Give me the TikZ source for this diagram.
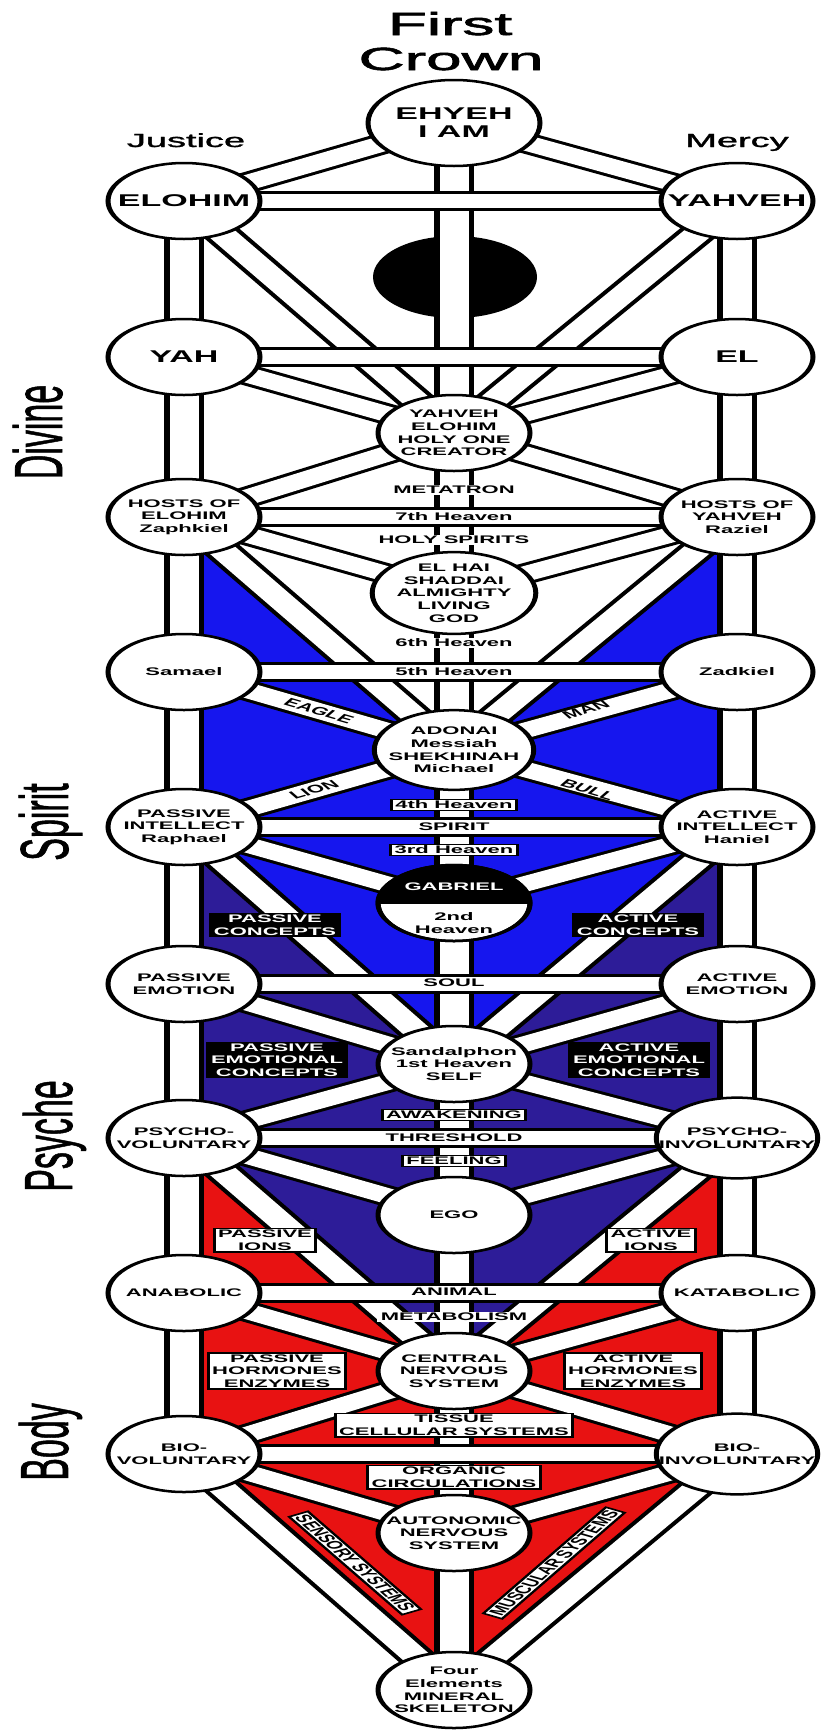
\documentclass[tikz,border=0pt]{standalone}
\usepackage{fontspec}
\setmainfont{Liberation Sans}
\newfontfamily\titlefont{Liberation Sans}[FakeBold=1.6]
\newfontfamily\labfont{Liberation Sans}[FakeBold=1.2]
\definecolor{spblue}{RGB}{22,22,238}
\definecolor{psindigo}{RGB}{45,28,152}
\definecolor{bdred}{RGB}{232,18,18}
\begin{document}
\begin{tikzpicture}[x=1pt,y=-1pt,
  sef/.style={circle,draw,line width=2.5pt,fill=white,minimum size=76pt,inner sep=0pt,align=center,font=\fontsize{11}{12.7}\selectfont\bfseries},
  bigsef/.style={sef,font=\fontsize{17}{18}\selectfont\bfseries},
  barout/.style={line width=20pt,black},
  barin/.style={line width=14.5pt,white},
  tlab/.style={inner sep=0pt,align=center,font=\fontsize{11}{12.7}\selectfont\bfseries},
  wlab/.style={tlab,fill=white,inner xsep=2pt,inner ysep=1pt},
  blab/.style={wlab,draw,line width=1.5pt,inner xsep=2pt,inner ysep=1.5pt},
  klab/.style={tlab,fill=black,text=white,inner xsep=2.5pt,inner ysep=1.5pt},
  world/.style={rotate=90,inner sep=0pt,anchor=base,font=\fontsize{34}{36}\labfont},
  side/.style={inner sep=0pt,anchor=base,font=\fontsize{19}{20}\labfont}
]
\useasboundingbox (0,0) rectangle (820,1730);
\begin{scope}[transform canvas={xscale=2}]
% ---------- positions ----------
\coordinate (p-ehyeh) at (227,123);
\coordinate (p-daat) at (227.5,277);
\coordinate (p-creator) at (227,433);
\coordinate (p-elhai) at (227,593);
\coordinate (p-adonai) at (227,750);
\coordinate (p-gabriel) at (227,903);
\coordinate (p-sandal) at (227,1064);
\coordinate (p-ego) at (227,1215);
\coordinate (p-cns) at (227,1371);
\coordinate (p-ans) at (227,1533);
\coordinate (p-four) at (227,1690);
\coordinate (p-elohim) at (92,201);   \coordinate (p-yahveh) at (368.5,201);
\coordinate (p-yah) at (92,357);      \coordinate (p-el) at (368.5,357);
\coordinate (p-hostsE) at (92,517);   \coordinate (p-hostsY) at (368.5,517);
\coordinate (p-samael) at (92,672);   \coordinate (p-zadkiel) at (368.5,672);
\coordinate (p-pintel) at (92,827);   \coordinate (p-aintel) at (368.5,827);
\coordinate (p-pemo) at (92,984);     \coordinate (p-aemo) at (368.5,984);
\coordinate (p-pvol) at (92,1138);    \coordinate (p-pinv) at (368.5,1138);
\coordinate (p-anab) at (92,1293);    \coordinate (p-katab) at (368.5,1293);
\coordinate (p-biov) at (92,1454);    \coordinate (p-bioi) at (368.5,1454);
% ---------- coloured faces ----------
\fill[bdred] (p-pvol) -- (p-biov) -- (p-four) -- (p-bioi) -- (p-pinv) -- cycle;
\fill[psindigo] (p-pintel) -- (p-pvol) -- (p-cns) -- (p-pinv) -- (p-aintel) -- cycle;
\fill[spblue] (p-hostsE) -- (p-pintel) -- (p-sandal) -- (p-aintel) -- (p-hostsY) -- cycle;
\fill[white] (p-hostsE) -- (p-adonai) -- (p-hostsY) -- cycle;
% ---------- Daath ----------
\node[circle,fill=black,minimum size=82pt,inner sep=0pt] (daat) at (p-daat) {};
% ---------- paths ----------
\def\diaglist{ehyeh/four, elohim/biov, yahveh/bioi,
 ehyeh/elohim, ehyeh/yahveh, elohim/creator, yahveh/creator, yah/creator, el/creator,
 hostsE/creator, hostsY/creator, hostsE/elhai, hostsY/elhai, hostsE/adonai, hostsY/adonai,
 samael/adonai, zadkiel/adonai, pintel/adonai, aintel/adonai, pintel/gabriel, aintel/gabriel,
 pintel/sandal, aintel/sandal, pemo/sandal, aemo/sandal, pvol/sandal, pinv/sandal,
 pvol/ego, pinv/ego, pvol/cns, pinv/cns, anab/cns, katab/cns, biov/cns, bioi/cns,
 biov/ans, bioi/ans, biov/four, bioi/four}
\foreach \a/\b in \diaglist {\draw[barout] (p-\a) -- (p-\b);}
\foreach \a/\b in \diaglist {\draw[barin] (p-\a) -- (p-\b);}
\foreach \a/\b in {elohim/yahveh, yah/el, hostsE/hostsY, samael/zadkiel, pintel/aintel,
 pemo/aemo, pvol/pinv, anab/katab, biov/bioi}
 {\draw[barout] (p-\a) -- (p-\b); \draw[barin] (p-\a) -- (p-\b);}
% ---------- labels on the paths ----------
\node[wlab] (metatron) at (227,490) {METATRON};
\node[tlab] (h7) at (227,517) {7th Heaven};
\node[wlab] (holysp) at (227,540) {HOLY SPIRITS};
\node[wlab] (h6) at (227,643) {6th Heaven};
\node[tlab] (h5) at (227,672) {5th Heaven};
\node[blab] (h4) at (227,805) {4th Heaven};
\node[tlab] (spirit) at (227,827) {SPIRIT};
\node[blab] (h3) at (227,850) {3rd Heaven};
\node[tlab] (soul) at (227,983) {SOUL};
\node[blab] (awak) at (227,1115) {AWAKENING};
\node[tlab] (thresh) at (227,1138) {THRESHOLD};
\node[blab] (feel) at (227,1161) {FEELING};
\node[tlab] (animal) at (227,1292) {ANIMAL};
\node[wlab] (metab) at (227,1317) {METABOLISM};
\node[blab] (tissue) at (227,1425) {TISSUE\\CELLULAR SYSTEMS};
\node[blab] (organic) at (227,1477) {ORGANIC\\CIRCULATIONS};
\node[tlab,rotate=-30] (eagle) at (159.5,711) {EAGLE};
\node[tlab,rotate=30] (man) at (293,710) {MAN};
\node[tlab,rotate=30] (lion) at (157,790) {LION};
\node[tlab,rotate=-30] (bull) at (294,790) {BULL};
\node[klab] (pcon) at (137.5,925) {PASSIVE\\CONCEPTS};
\node[klab] (acon) at (319,925) {ACTIVE\\CONCEPTS};
\node[klab] (pemc) at (138.5,1060) {PASSIVE\\EMOTIONAL\\CONCEPTS};
\node[klab] (aemc) at (319.5,1060) {ACTIVE\\EMOTIONAL\\CONCEPTS};
\node[blab] (pions) at (132.5,1240) {PASSIVE\\IONS};
\node[blab] (aions) at (325.5,1240) {ACTIVE\\IONS};
\node[blab] (phorm) at (138.5,1371) {PASSIVE\\HORMONES\\ENZYMES};
\node[blab] (ahorm) at (316.5,1371) {ACTIVE\\HORMONES\\ENZYMES};
\node[blab,rotate=-60] (sensory) at (177.5,1563) {SENSORY SYSTEMS};
\node[blab,rotate=60] (muscular) at (277,1563) {MUSCULAR SYSTEMS};
% ---------- sefirot ----------
\node[bigsef,minimum size=86pt] (ehyeh) at (p-ehyeh) {EHYEH\\I AM};
\node[bigsef] (elohim) at (p-elohim) {ELOHIM};
\node[bigsef] (yahveh) at (p-yahveh) {YAHVEH};
\node[bigsef] (yah) at (p-yah) {YAH};
\node[bigsef] (el) at (p-el) {EL};
\node[sef] (creator) at (p-creator) {YAHVEH\\ELOHIM\\HOLY ONE\\CREATOR};
\node[sef] (hostsE) at (p-hostsE) {HOSTS OF\\ELOHIM\\Zaphkiel};
\node[sef] (hostsY) at (p-hostsY) {HOSTS OF\\YAHVEH\\Raziel};
\node[sef] (elhai) at (p-elhai) {EL HAI\\SHADDAI\\ALMIGHTY\\LIVING\\GOD};
\node[sef] (samael) at (p-samael) {Samael};
\node[sef] (zadkiel) at (p-zadkiel) {Zadkiel};
\node[sef] (adonai) at (p-adonai) {ADONAI\\Messiah\\SHEKHINAH\\Michael};
\node[sef] (pintel) at (p-pintel) {PASSIVE\\INTELLECT\\Raphael};
\node[sef] (aintel) at (p-aintel) {ACTIVE\\INTELLECT\\Haniel};
\node[sef] (gabriel) at (p-gabriel) {};
\begin{scope}
 \clip ([xshift=-45pt]p-gabriel) rectangle ([xshift=45pt,yshift=45pt]p-gabriel);
 \fill[black] (p-gabriel) circle[radius=38];
\end{scope}
\draw[line width=2.5pt] (p-gabriel) circle[radius=38];
\node[tlab,text=white] (gabtxt) at (227,887) {GABRIEL};
\node[tlab] (h2) at (227,923) {2nd\\Heaven};
\node[sef] (pemo) at (p-pemo) {PASSIVE\\EMOTION};
\node[sef] (aemo) at (p-aemo) {ACTIVE\\EMOTION};
\node[sef] (sandal) at (p-sandal) {Sandalphon\\1st Heaven\\SELF};
\node[sef] (pvol) at (p-pvol) {PSYCHO-\\VOLUNTARY};
\node[sef] (pinv) at (p-pinv) {PSYCHO-\\INVOLUNTARY};
\node[sef] (ego) at (p-ego) {EGO};
\node[sef] (anab) at (p-anab) {ANABOLIC};
\node[sef] (katab) at (p-katab) {KATABOLIC};
\node[sef] (cns) at (p-cns) {CENTRAL\\NERVOUS\\SYSTEM};
\node[sef] (biov) at (p-biov) {BIO-\\VOLUNTARY};
\node[sef] (bioi) at (p-bioi) {BIO-\\INVOLUNTARY};
\node[sef] (ans) at (p-ans) {AUTONOMIC\\NERVOUS\\SYSTEM};
\node[sef] (four) at (p-four) {Four\\Elements\\MINERAL\\SKELETON};
% ---------- titles ----------
\node[inner sep=0pt,anchor=base,font=\fontsize{32}{34}\titlefont] (first) at (225,35) {First};
\node[inner sep=0pt,anchor=base,font=\fontsize{32}{34}\titlefont] (crown) at (225.5,70) {Crown};
\node[side] (justice) at (93,147) {Justice};
\node[side] (mercy) at (368.5,147) {Mercy};
\node[world] (divine) at (31,432) {Divine};
\node[world] (spiritw) at (34,822) {Spirit};
\node[world] (psyche) at (36,1136) {Psyche};
\node[world] (body) at (34,1442) {Body};
\end{scope}
\end{tikzpicture}
\end{document}
